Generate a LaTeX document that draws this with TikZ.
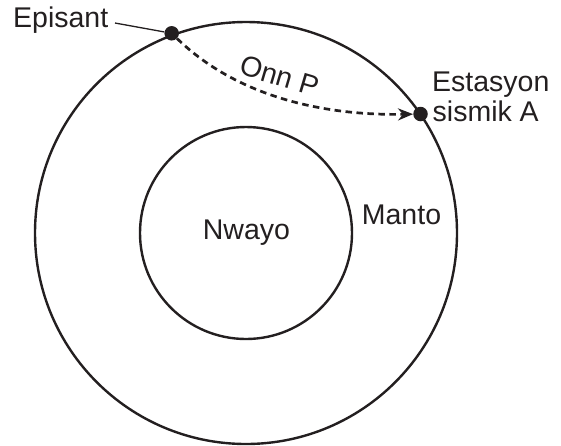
\documentclass[tikz,border=0pt]{standalone}
\usepackage{fontspec}
\setmainfont{Liberation Sans}
\usetikzlibrary{arrows.meta}
\definecolor{ink}{HTML}{231F20}
\begin{document}
\begin{tikzpicture}[x=1pt,y=-1pt,
  ring/.style={circle,draw=ink,line width=2.4pt,inner sep=0pt},
  dot/.style={circle,fill=ink,inner sep=0pt,minimum size=14.5pt},
  lbl/.style={text=ink,font=\fontsize{28.5}{30}\selectfont,inner sep=0pt},
  wave/.style={draw=ink,line width=2.7pt,dash pattern=on 6.5pt off 4.5pt,-{Stealth[length=15pt,width=12pt]}},
  lead/.style={draw=ink,line width=1.3pt}]
\useasboundingbox (0,0) rectangle (561,445);
\coordinate (c) at (246,233);
\node[ring,minimum size=422pt] (outer) at (c) {};
\node[ring,minimum size=212pt] (inner) at (c) {};
\node[dot] (epi) at (171.7,33.3) {};
\node[dot] (sta) at (420.5,114) {};
\node[lbl,anchor=base west] (epitxt) at (13,27) {Episant};
\node[lbl,anchor=base west] (sta1) at (432,91.7) {Estasyon};
\node[lbl,anchor=base west] (sta2) at (432.5,121) {sismik A};
\node[lbl,anchor=base west] (core) at (202.7,239.3) {Nwayo};
\node[lbl,anchor=base west] (mantle) at (361.7,224.3) {Manto};
\node[lbl,rotate=-16.5] (wavetxt) at (280,76) {Onn P};
\coordinate (leadstart) at (115,23);
\draw[lead] (leadstart) -- (epi);
\draw[wave] (epi) .. controls (230,90) and (310,116) .. (sta);
\end{tikzpicture}
\end{document}
